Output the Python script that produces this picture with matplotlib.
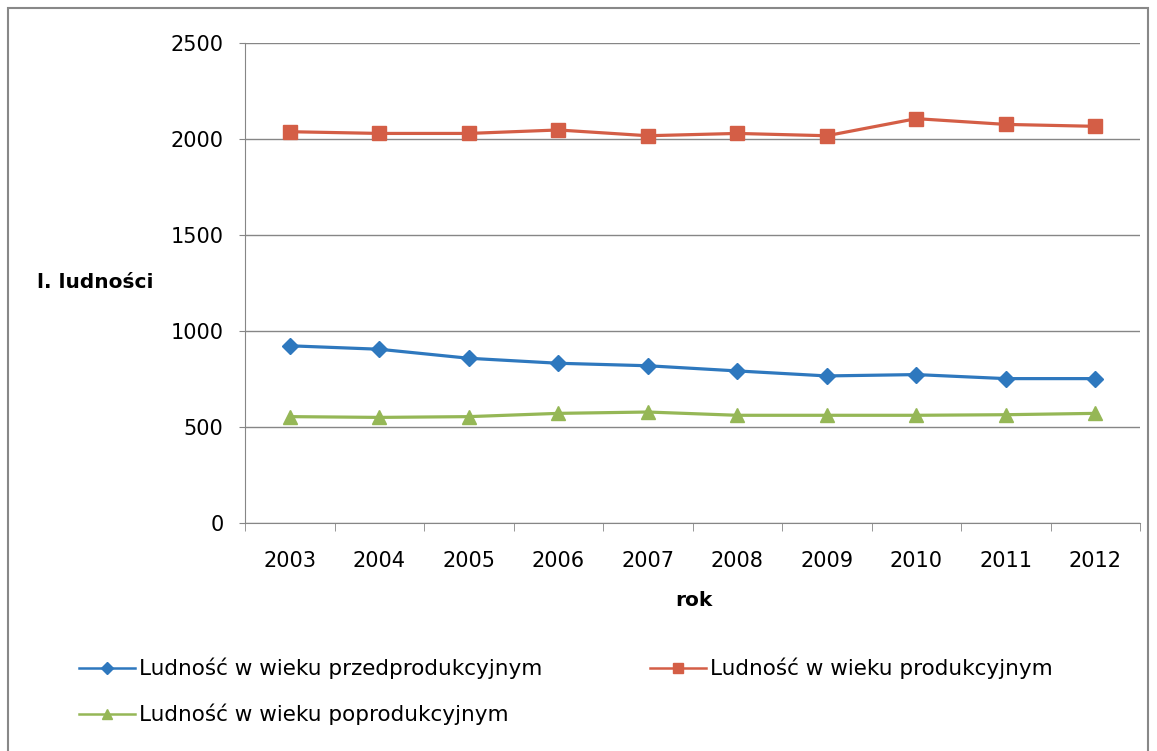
import numpy as np
import matplotlib
matplotlib.use("Agg")
import matplotlib.pyplot as plt
from matplotlib.patches import Rectangle

plt.rcParams['font.family'] = ['DejaVu Sans']

years = ['2003', '2004', '2005', '2006', '2007', '2008', '2009', '2010', '2011', '2012']
przed = [923, 905, 858, 832, 819, 792, 766, 773, 752, 752]
prod = [2038, 2029, 2029, 2047, 2017, 2029, 2017, 2106, 2076, 2066]
popro = [554, 550, 554, 571, 578, 561, 561, 561, 564, 571]

labels = ['Ludność w wieku przedprodukcyjnym',
          'Ludność w wieku produkcyjnym',
          'Ludność w wieku poprodukcyjnym']

c_blue = '#2E78BE'
c_red = '#D45E46'
c_green = '#95B756'
c_grid = '#868686'

fig = plt.figure(figsize=(11.57, 7.51), dpi=100)
W, H = 1157, 751
ax = fig.add_axes([245 / W, 1 - 523 / H, (1140 - 245) / W, (523 - 43) / H])

x = np.arange(len(years))
l1, = ax.plot(x, przed, color=c_blue, lw=2.3, marker='D', ms=8, label=labels[0])
l2, = ax.plot(x, prod, color=c_red, lw=2.3, marker='s', ms=10, label=labels[1])
l3, = ax.plot(x, popro, color=c_green, lw=2.3, marker='^', ms=10, label=labels[2])

ax.set_xlim(-0.5, len(years) - 0.5)
ax.set_ylim(0, 2500)
ax.set_yticks(np.arange(0, 2501, 500))
ax.yaxis.grid(True, color=c_grid, lw=1)
ax.set_axisbelow(True)
ax.set_xticks(x)
ax.set_xticklabels(years)
ax.set_xticks(np.arange(-0.5, len(years), 1), minor=True)
ax.tick_params(axis='x', which='major', length=0, pad=20, labelsize=15)
ax.tick_params(axis='x', which='minor', length=6, color=c_grid)
ax.tick_params(axis='y', length=4.5, color=c_grid, labelsize=15, pad=11)
for s in ['top', 'right']:
    ax.spines[s].set_visible(False)
for s in ['left', 'bottom']:
    ax.spines[s].set_color(c_grid)

fig.text(37 / W, 1 - 283 / H, 'l. ludności', fontsize=14.5, fontweight='bold',
         ha='left', va='center')
fig.text(694 / W, 1 - 601 / H, 'rok', fontsize=14.5, fontweight='bold',
         ha='center', va='center')

leg = fig.legend([l1, l3, l2], [labels[0], labels[2], labels[1]], ncol=2,
                 loc='upper left', bbox_to_anchor=(70 / W, 1 - 649 / H),
                 frameon=False, fontsize=15.5, handlelength=2.6,
                 handletextpad=0.2, columnspacing=5.0, labelspacing=1.15,
                 borderaxespad=0, markerscale=0.75)
for h in leg.legend_handles:
    h.set_linewidth(1.8)

fig.patches.append(Rectangle((8 / W, -0.05), (1148 - 8) / W, 1 - 8 / H + 0.05,
                             transform=fig.transFigure, fill=False,
                             edgecolor='#888888', lw=1.5))

fig.savefig('out.png', dpi=100)
